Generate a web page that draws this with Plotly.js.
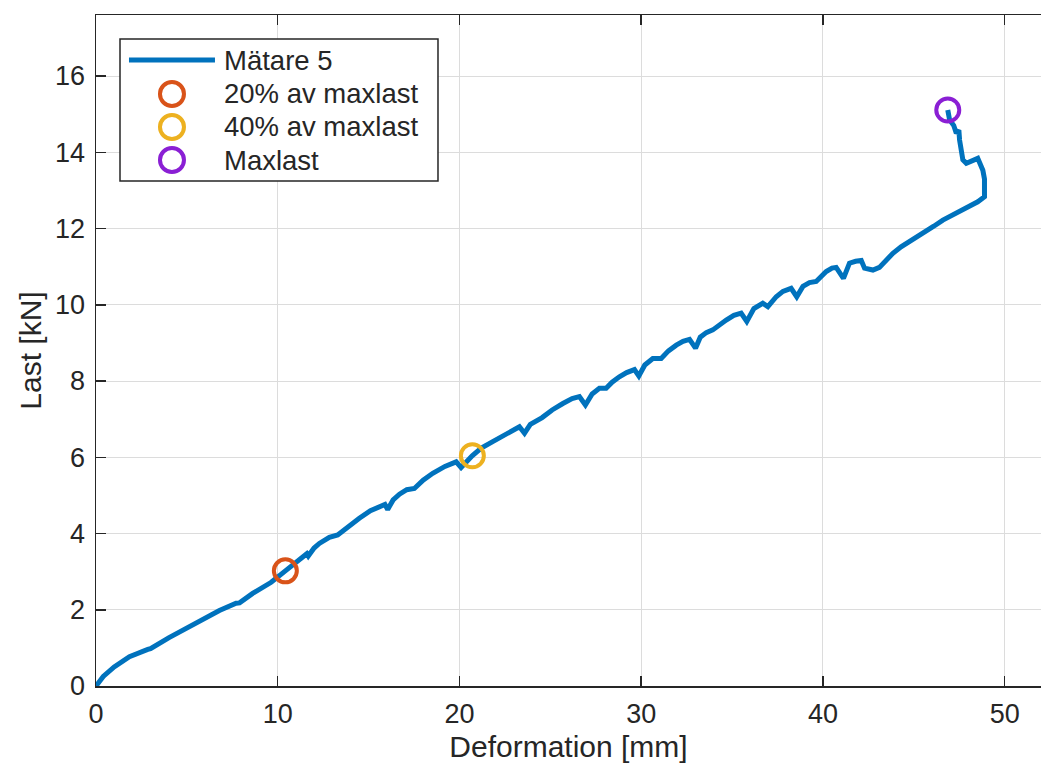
<!DOCTYPE html>
<html>
<head>
<meta charset="utf-8">
<script src="https://cdn.plot.ly/plotly-3.0.1.min.js"></script>
<style>html,body{margin:0;padding:0;background:#fff;overflow:hidden}#chart{width:1041px;height:769px}</style>
</head>
<body>
<div id="chart"></div>
<script>
// Mätare 5 load–deformation curve
const deformation = [0, 0.4, 1.0, 1.84, 2.85, 3.0, 4.02, 5.69, 6.79, 7.71, 7.9, 8.62, 9.64, 10.42, 11.19, 11.6, 11.68,
  12.0, 12.29, 12.84, 13.30, 13.9, 14.49, 15.1, 15.69, 15.9, 16.05, 16.35, 16.70, 17.1, 17.52, 18.0, 18.53, 19.2,
  19.82, 20.09, 20.70, 21.2, 21.83, 22.6, 23.30, 23.58, 23.9, 24.55, 25.1, 25.69, 26.2, 26.60, 26.93, 27.3, 27.70,
  28.07, 28.4, 28.80, 29.2, 29.63, 29.87, 30.2, 30.64, 31.10, 31.5, 31.93, 32.3, 32.66, 32.99, 33.25, 33.58, 33.94,
  34.3, 34.68, 35.1, 35.50, 35.81, 36.2, 36.69, 36.97, 37.43, 37.8, 38.25, 38.56, 38.9, 39.26, 39.63, 40.18, 40.5,
  40.73, 41.13, 41.46, 41.8, 42.11, 42.29, 42.75, 43.11, 43.5, 43.85, 44.3, 44.76, 45.2, 45.69, 46.1, 46.60, 47.0,
  47.52, 48.0, 48.52, 48.71, 48.89, 48.89, 48.80, 48.52, 47.89, 47.70, 47.60, 47.52, 47.48, 47.34, 47.2, 46.97,
  46.87];
const load = [0, 0.25, 0.5, 0.77, 0.96, 0.98, 1.27, 1.70, 1.98, 2.17, 2.18, 2.43, 2.72, 3.02, 3.33, 3.47, 3.41,
  3.62, 3.74, 3.90, 3.96, 4.20, 4.40, 4.60, 4.74, 4.76, 4.63, 4.88, 5.03, 5.15, 5.18, 5.40, 5.58, 5.76,
  5.88, 5.73, 6.04, 6.24, 6.41, 6.62, 6.80, 6.63, 6.86, 7.04, 7.24, 7.41, 7.54, 7.59, 7.37, 7.66, 7.81,
  7.81, 7.97, 8.11, 8.22, 8.30, 8.13, 8.42, 8.59, 8.59, 8.79, 8.94, 9.04, 9.09, 8.86, 9.15, 9.27, 9.34,
  9.48, 9.60, 9.72, 9.78, 9.56, 9.90, 10.04, 9.95, 10.21, 10.35, 10.43, 10.21, 10.48, 10.58, 10.61, 10.87, 10.96,
  10.98, 10.69, 11.09, 11.14, 11.16, 10.96, 10.91, 10.98, 11.18, 11.35, 11.52, 11.65, 11.79, 11.92, 12.06, 12.22, 12.33,
  12.44, 12.57, 12.70, 12.75, 12.83, 13.30, 13.53, 13.84, 13.71, 13.80, 14.05, 14.32, 14.58, 14.50, 14.70, 14.85,
  15.11];

const lineName = "Mätare 5";
const lineColor = "#0072BD";
const markerNames = ["20% av maxlast", "40% av maxlast", "Maxlast"];
const markerX = [10.42, 20.71, 46.87];
const markerY = [3.02, 6.04, 15.11];
const markerColors = ["#D95319", "#EDB120", "#8A1FD4"];

const xTitle = "Deformation [mm]";
const yTitle = "Last [kN]";
const xTicks = [0, 10, 20, 30, 40, 50];
const yTicks = [0, 2, 4, 6, 8, 10, 12, 14, 16];

const FONT = "Arial, 'Liberation Sans', Helvetica, sans-serif";
const TXT = "#262626";

const traces = [{
  x: deformation, y: load, type: "scatter", mode: "lines", name: lineName,
  line: {color: lineColor, width: 5}, showlegend: false
}];
for (let i = 0; i < markerNames.length; i++) {
  traces.push({
    x: [markerX[i]], y: [markerY[i]], type: "scatter", mode: "markers", name: markerNames[i],
    showlegend: false,
    marker: {symbol: "circle-open", size: 23, color: markerColors[i], line: {width: 4, color: markerColors[i]}}
  });
}

// Legend box (drawn with shapes + text annotations, in paper coordinates)
const L = {x0: 0.0254, x1: 0.3619, y0: 0.7526, y1: 0.9642,
  sampleX0: 0.0349, sampleX1: 0.1259, symX: 0.0804, textX: 0.1333,
  rows: [0.9329, 0.8823, 0.8331, 0.7839]};
const shapes = [
  {type: "rect", xref: "paper", yref: "paper", x0: L.x0, x1: L.x1, y0: L.y0, y1: L.y1,
   fillcolor: "#fff", line: {color: TXT, width: 1.5}, layer: "above"},
  {type: "line", xref: "paper", yref: "paper", x0: L.sampleX0, x1: L.sampleX1, y0: L.rows[0], y1: L.rows[0],
   line: {color: lineColor, width: 5}, layer: "above"}
];
const legendLabels = [lineName].concat(markerNames);
const annotations = [];
for (let i = 0; i < markerNames.length; i++) {
  shapes.push({type: "circle", xref: "paper", yref: "paper", xsizemode: "pixel", ysizemode: "pixel",
    xanchor: L.symX, yanchor: L.rows[i + 1], x0: -12, x1: 12, y0: -12, y1: 12,
    line: {color: markerColors[i], width: 4}, fillcolor: "rgba(0,0,0,0)", layer: "above"});
}
for (let i = 0; i < legendLabels.length; i++) {
  annotations.push({xref: "paper", yref: "paper", x: L.textX, y: L.rows[i], xanchor: "left", yanchor: "middle",
    text: legendLabels[i], showarrow: false, font: {family: FONT, size: 27.5, color: TXT}});
}

const layout = {
  width: 1041, height: 769,
  margin: {l: 96, r: 0, t: 15, b: 83},
  paper_bgcolor: "#fff", plot_bgcolor: "#fff",
  font: {family: FONT, color: TXT, size: 27},
  showlegend: false,
  shapes: shapes, annotations: annotations,
  xaxis: {
    range: [0, 52], tickvals: xTicks, ticktext: xTicks.map(String),
    showgrid: true, gridcolor: "#dcdcdc", gridwidth: 1,
    zeroline: false, showline: true, linecolor: TXT, linewidth: 1.5,
    ticks: "inside", ticklen: 10, tickwidth: 1.5, tickcolor: TXT,
    mirror: "ticks", tickfont: {size: 27, color: TXT},
    ticklabelstandoff: 3,
    title: {text: xTitle, font: {size: 30, color: TXT}, standoff: 8}
  },
  yaxis: {
    range: [0, 17.6], tickvals: yTicks, ticktext: yTicks.map(String),
    showgrid: true, gridcolor: "#dcdcdc", gridwidth: 1,
    zeroline: false, showline: true, linecolor: TXT, linewidth: 1.5,
    ticks: "inside", ticklen: 10, tickwidth: 1.5, tickcolor: TXT,
    tickfont: {size: 27, color: TXT},
    ticklabelstandoff: 4,
    title: {text: yTitle, font: {size: 30, color: TXT}, standoff: 4}
  }
};

Plotly.newPlot("chart", traces, layout, {displayModeBar: false, staticPlot: true});
</script>
</body>
</html>
